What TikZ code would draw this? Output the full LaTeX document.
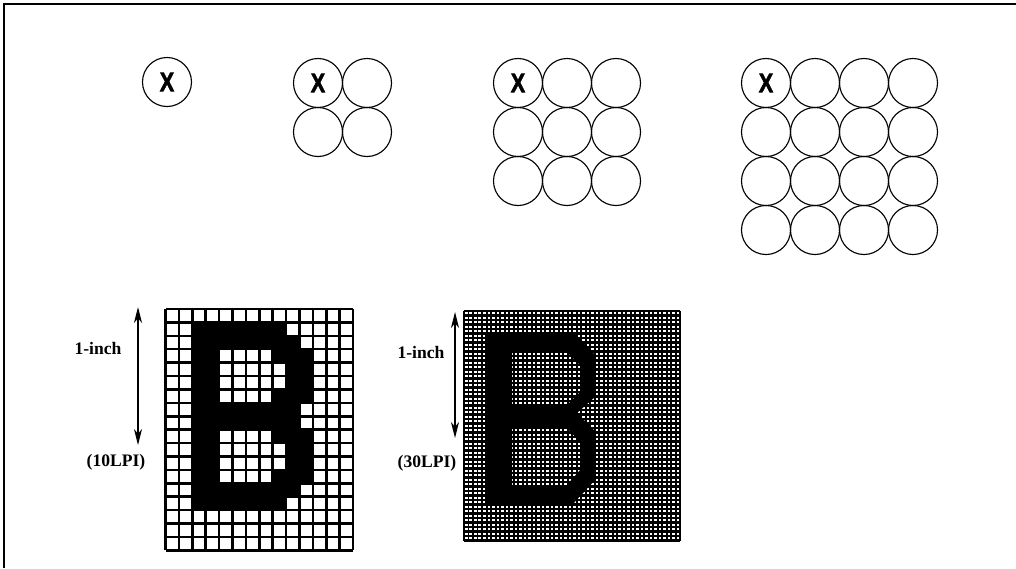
\documentclass[tikz,border=0pt]{standalone}
\usepackage{fontspec}
\setmainfont{Liberation Serif}
\setsansfont{Liberation Sans}
\newfontfamily\heavyfont{Liberation Sans}[FakeBold=2.5]
\usetikzlibrary{arrows.meta}

\tikzset{
  pel/.style={circle, draw, line width=0.8pt, minimum size=1.225cm, inner sep=0pt},
  xmark/.style={font=\heavyfont\bfseries\fontsize{19}{19}\selectfont, xscale=0.8},
  lbl/.style={font=\bfseries\fontsize{12.5}{14}\selectfont},
  span/.style={{Stealth[length=0.4cm,width=0.2cm,inset=0.12cm]}-{Stealth[length=0.4cm,width=0.2cm,inset=0.12cm]}, line width=1pt}
}

\begin{document}
\begin{tikzpicture}[x=0.025cm, y=-0.025cm]
    \useasboundingbox (0,0) rectangle (1016,568);

    % Marco (solo arriba e izquierda)
    \draw[line width=1.4pt] (4,568) -- (4,4) -- (1016,4);

    % Celdas de 1x1, 2x2, 3x3 y 4x4 puntos
    \node[pel] (g1-1-1) at (167,82) {};
    \foreach \n/\cx in {2/318, 3/518, 4/766}
      \foreach \i in {1,...,\n}
        \foreach \j in {1,...,\n}
          \node[pel] (g\n-\i-\j) at ({\cx+49*(\i-1)}, {83+49*(\j-1)}) {};

    % Marca X en el primer punto de cada celda
    \foreach \n in {1,2,3,4}
      \node[xmark] at (g\n-1-1) {X};

    % Rejilla de 10 LPI con la letra B
    \begin{scope}[shift={(165.5,309)}, x=0.335cm, y=-0.335cm]
      \fill[white] (0,0) rectangle (14,18);
      \foreach \k in {0,...,18}
        \draw[line width=1.8pt] (0,\k) -- (14,\k);
      \foreach \k in {0,...,14}
        \draw[line width=1.8pt] (\k,0) -- (\k,18);
      \fill[black, even odd rule]
        (2,1) -- (9,1) -- (9,2) -- (10,2) -- (10,3) -- (11,3) -- (11,7) -- (10,7)
        -- (10,9) -- (11,9) -- (11,13) -- (10,13) -- (10,14) -- (9,14) -- (9,15)
        -- (2,15) -- cycle
        (4,3) -- (8,3) -- (8,4) -- (9,4) -- (9,6) -- (8,6) -- (8,7) -- (4,7) -- cycle
        (4,9) -- (8,9) -- (8,10) -- (9,10) -- (9,12) -- (8,12) -- (8,13) -- (4,13) -- cycle;
    \end{scope}

    % Rejilla de 30 LPI con la letra B
    \begin{scope}[shift={(464,311)}, x=0.1125cm, y=-0.1125cm]
      \fill[white] (0,0) rectangle (48,51);
      \foreach \k in {0,...,51}
        \draw[line width=1.9pt] (0,\k) -- (48,\k);
      \foreach \k in {0,...,48}
        \draw[line width=1.4pt] (\k,0) -- (\k,51);
    \end{scope}
    \fill[black, even odd rule]
      (485,332) -- (573,332) -- (595,355) -- (595,397) -- (577,413) -- (595,431)
      -- (595,480) -- (572,505) -- (485,505) -- cycle
      (512,352) -- (567,352) -- (580,365) -- (580,392) -- (567,405) -- (512,405) -- cycle
      (512,428) -- (567,428) -- (580,442) -- (580,470) -- (567,485) -- (512,485) -- cycle;

    % Cotas de 1 pulgada
    \coordinate (top10) at (138,307);
    \coordinate (bot10) at (138,445);
    \coordinate (top30) at (455,312);
    \coordinate (bot30) at (455,438);
    \draw[span] (top10) -- (bot10);
    \draw[span] (top30) -- (bot30);

    % Etiquetas
    \node[lbl] (inch10) at (98,348) {1-inch};
    \node[lbl] (lpi10) at (116,462) {(10LPI)};
    \node[lbl] (inch30) at (421,352) {1-inch};
    \node[lbl] (lpi30) at (427,463) {(30LPI)};
\end{tikzpicture}
\end{document}
